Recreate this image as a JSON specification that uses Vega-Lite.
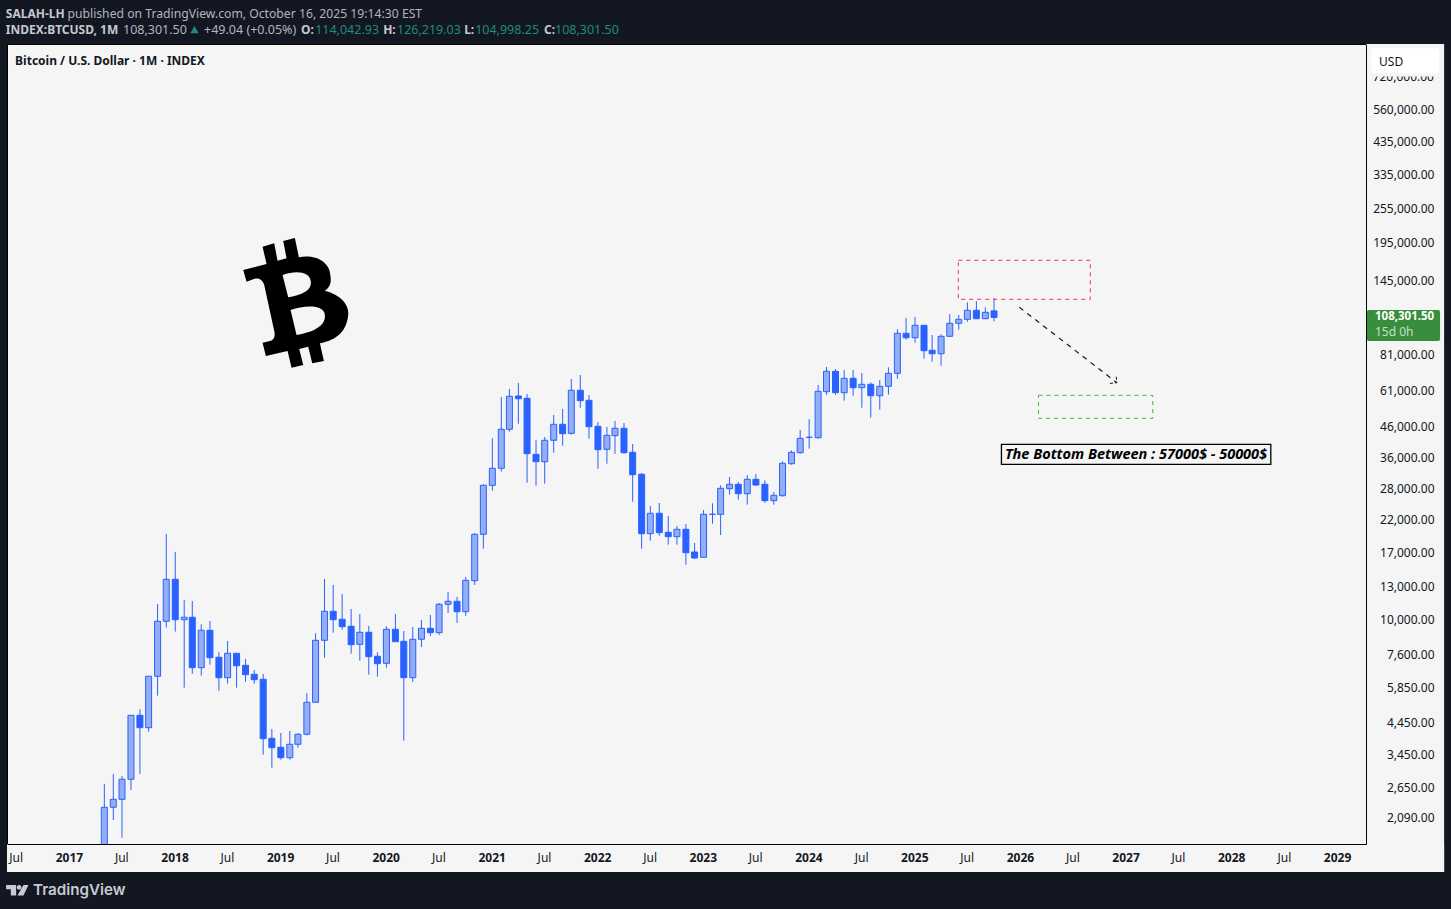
{
  "$schema": "https://vega.github.io/schema/vega-lite/v6.json",
  "autosize": {"type": "none"},
  "width": 1359,
  "height": 800,
  "padding": {"left": 7, "top": 44, "right": 85, "bottom": 65},
  "background": "#131722",
  "view": {"fill": "#f5f5f5", "stroke": "#000000"},
  "config": {"font": "Noto Sans", "text": {"font": "Noto Sans"}},
  "datasets": {
    "candles": [
      {"date":"2017-05-01","open":1350,"high":2733,"low":1350,"close":2275},
      {"date":"2017-06-01","open":2275,"high":2957,"low":2058,"close":2422},
      {"date":"2017-07-01","open":2422,"high":2911,"low":1789,"close":2837},
      {"date":"2017-08-01","open":2837,"high":4698,"low":2607,"close":4698},
      {"date":"2017-09-01","open":4698,"high":4926,"low":2957,"close":4261},
      {"date":"2017-10-01","open":4261,"high":6391,"low":4128,"close":6391},
      {"date":"2017-11-01","open":6391,"high":11302,"low":5484,"close":9861},
      {"date":"2017-12-01","open":9861,"high":19629,"low":9375,"close":13733},
      {"date":"2018-01-01","open":13733,"high":17032,"low":9085,"close":9987},
      {"date":"2018-02-01","open":9987,"high":11665,"low":5841,"close":10178},
      {"date":"2018-03-01","open":10178,"high":11573,"low":6522,"close":6839},
      {"date":"2018-04-01","open":6839,"high":9630,"low":6420,"close":9185},
      {"date":"2018-05-01","open":9185,"high":9884,"low":7003,"close":7400},
      {"date":"2018-06-01","open":7424,"high":7722,"low":5704,"close":6321},
      {"date":"2018-07-01","open":6321,"high":8442,"low":6028,"close":7662},
      {"date":"2018-08-01","open":7662,"high":7662,"low":5841,"close":6947},
      {"date":"2018-09-01","open":6969,"high":7325,"low":6124,"close":6471},
      {"date":"2018-10-01","open":6492,"high":6716,"low":6028,"close":6222},
      {"date":"2018-11-01","open":6242,"high":6507,"low":3444,"close":3907},
      {"date":"2018-12-01","open":3919,"high":4217,"low":3108,"close":3639},
      {"date":"2019-01-01","open":3651,"high":4086,"low":3311,"close":3363},
      {"date":"2019-02-01","open":3363,"high":4151,"low":3311,"close":3738},
      {"date":"2019-03-01","open":3738,"high":4086,"low":3639,"close":4044},
      {"date":"2019-04-01","open":4044,"high":5588,"low":4010,"close":5206},
      {"date":"2019-05-01","open":5206,"high":8970,"low":5190,"close":8489},
      {"date":"2019-06-01","open":8489,"high":13765,"low":7400,"close":10670},
      {"date":"2019-07-01","open":10670,"high":13128,"low":9013,"close":9987},
      {"date":"2019-08-01","open":10019,"high":12228,"low":9229,"close":9450},
      {"date":"2019-09-01","open":9480,"high":10866,"low":7638,"close":8199},
      {"date":"2019-10-01","open":8225,"high":10445,"low":7227,"close":9041},
      {"date":"2019-11-01","open":9041,"high":9504,"low":6471,"close":7460},
      {"date":"2019-12-01","open":7483,"high":7722,"low":6371,"close":7058},
      {"date":"2020-01-01","open":7080,"high":9480,"low":6839,"close":9258},
      {"date":"2020-02-01","open":9258,"high":10445,"low":8396,"close":8396},
      {"date":"2020-03-01","open":8422,"high":9134,"low":3846,"close":6321},
      {"date":"2020-04-01","open":6321,"high":9427,"low":6110,"close":8557},
      {"date":"2020-05-01","open":8557,"high":9963,"low":8052,"close":9331},
      {"date":"2020-06-01","open":9331,"high":10363,"low":8782,"close":9013},
      {"date":"2020-07-01","open":9013,"high":11392,"low":8851,"close":11275},
      {"date":"2020-08-01","open":11275,"high":12423,"low":10528,"close":11546},
      {"date":"2020-09-01","open":11546,"high":11944,"low":9730,"close":10637},
      {"date":"2020-10-01","open":10637,"high":13984,"low":10283,"close":13624},
      {"date":"2020-11-01","open":13582,"high":19739,"low":13128,"close":19583},
      {"date":"2020-12-01","open":19583,"high":29048,"low":17481,"close":28819},
      {"date":"2021-01-01","open":28819,"high":41752,"low":27619,"close":32956},
      {"date":"2021-02-01","open":32956,"high":57825,"low":32085,"close":44826},
      {"date":"2021-03-01","open":44826,"high":61592,"low":44000,"close":58147},
      {"date":"2021-04-01","open":58288,"high":64575,"low":46845,"close":57057},
      {"date":"2021-05-01","open":57238,"high":59209,"low":29417,"close":36976},
      {"date":"2021-06-01","open":36800,"high":41196,"low":28730,"close":34717},
      {"date":"2021-07-01","open":34717,"high":42180,"low":29185,"close":41097},
      {"date":"2021-08-01","open":41097,"high":50172,"low":37268,"close":46623},
      {"date":"2021-09-01","open":46623,"high":52604,"low":39386,"close":43292},
      {"date":"2021-10-01","open":43430,"high":66645,"low":42953,"close":60962},
      {"date":"2021-11-01","open":60962,"high":68781,"low":53147,"close":56164},
      {"date":"2021-12-01","open":56340,"high":58744,"low":41620,"close":45752},
      {"date":"2022-01-01","open":45896,"high":47477,"low":32852,"close":38163},
      {"date":"2022-02-01","open":38285,"high":45641,"low":34172,"close":42753},
      {"date":"2022-03-01","open":42617,"high":47853,"low":36976,"close":45178},
      {"date":"2022-04-01","open":45178,"high":47105,"low":37000,"close":37268},
      {"date":"2022-05-01","open":37387,"high":39915,"low":25325,"close":31333},
      {"date":"2022-06-01","open":31431,"high":31756,"low":17481,"close":19676},
      {"date":"2022-07-01","open":19676,"high":24481,"low":18620,"close":23110},
      {"date":"2022-08-01","open":23110,"high":25065,"low":19368,"close":19832},
      {"date":"2022-09-01","open":19894,"high":22625,"low":18041,"close":19217},
      {"date":"2022-10-01","open":19217,"high":20909,"low":18041,"close":20372},
      {"date":"2022-11-01","open":20372,"high":21239,"low":15409,"close":16938},
      {"date":"2022-12-01","open":17031,"high":18285,"low":16117,"close":16245},
      {"date":"2023-01-01","open":16336,"high":23720,"low":16300,"close":22928},
      {"date":"2023-02-01","open":22928,"high":25006,"low":21290,"close":22928},
      {"date":"2023-03-01","open":22928,"high":28819,"low":19475,"close":28147},
      {"date":"2023-04-01","open":28058,"high":30769,"low":26761,"close":29048},
      {"date":"2023-05-01","open":29048,"high":29579,"low":25728,"close":26972},
      {"date":"2023-06-01","open":26972,"high":31187,"low":24732,"close":30219},
      {"date":"2023-07-01","open":30219,"high":31506,"low":28663,"close":28888},
      {"date":"2023-08-01","open":29048,"high":29979,"low":25125,"close":25525},
      {"date":"2023-09-01","open":25525,"high":27336,"low":24732,"close":26633},
      {"date":"2023-10-01","open":26551,"high":34826,"low":26343,"close":34281},
      {"date":"2023-11-01","open":34172,"high":37981,"low":33904,"close":37387},
      {"date":"2023-12-01","open":37268,"high":44576,"low":37000,"close":41752},
      {"date":"2024-01-01","open":42086,"high":48504,"low":38464,"close":42086},
      {"date":"2024-02-01","open":41950,"high":63564,"low":41620,"close":60486},
      {"date":"2024-03-01","open":60296,"high":73259,"low":58885,"close":70820},
      {"date":"2024-04-01","open":70820,"high":72114,"low":58885,"close":59820},
      {"date":"2024-05-01","open":59820,"high":71549,"low":56164,"close":67016},
      {"date":"2024-06-01","open":67016,"high":71549,"low":58420,"close":62227},
      {"date":"2024-07-01","open":62227,"high":69875,"low":53147,"close":63915},
      {"date":"2024-08-01","open":63915,"high":64933,"low":49117,"close":58420},
      {"date":"2024-09-01","open":58420,"high":66123,"low":52317,"close":62918},
      {"date":"2024-10-01","open":62918,"high":73094,"low":58885,"close":69711},
      {"date":"2024-11-01","open":69711,"high":98634,"low":66804,"close":95564},
      {"date":"2024-12-01","open":95564,"high":107822,"low":90865,"close":92306},
      {"date":"2025-01-01","open":92306,"high":108672,"low":88734,"close":101792},
      {"date":"2025-02-01","open":101792,"high":101792,"low":78217,"close":83312},
      {"date":"2025-03-01","open":83572,"high":94300,"low":76390,"close":81360},
      {"date":"2025-04-01","open":81360,"high":94809,"low":74017,"close":93330},
      {"date":"2025-05-01","open":93330,"high":111273,"low":93000,"close":103408},
      {"date":"2025-06-01","open":103408,"high":110400,"low":98320,"close":106729},
      {"date":"2025-07-01","open":106729,"high":122033,"low":104723,"close":114569},
      {"date":"2025-08-01","open":114569,"high":123290,"low":107000,"close":107228},
      {"date":"2025-09-01","open":107228,"high":117325,"low":107000,"close":112778},
      {"date":"2025-10-01","open":114042.93,"high":126219.03,"low":104998.25,"close":108301.5}
    ]
  },
  "encoding": {
    "x": {
      "field": "date",
      "type": "temporal",
      "title": null,
      "scale": {"type": "utc", "domain": ["2016-06-01", "2029-04-11"], "nice": false, "padding": 0},
      "axis": {
        "zindex": 1,
        "grid": false,
        "ticks": false,
        "domainColor": "#000000",
        "labelOverlap": false,
        "labelFlush": false,
        "labelPadding": 8,
        "labelFontSize": 12,
        "labelColor": "#131722",
        "labelFontWeight": {"condition": {"test": "utcmonth(datum.value) == 0", "value": "bold"}, "value": "normal"},
        "labelExpr": "utcmonth(datum.value) == 0 ? utcFormat(datum.value, '%Y') : 'Jul'",
        "values": ["2016-07-01","2017-01-01","2017-07-01","2018-01-01","2018-07-01","2019-01-01","2019-07-01","2020-01-01","2020-07-01","2021-01-01","2021-07-01","2022-01-01","2022-07-01","2023-01-01","2023-07-01","2024-01-01","2024-07-01","2025-01-01","2025-07-01","2026-01-01","2026-07-01","2027-01-01","2027-07-01","2028-01-01","2028-07-01","2029-01-01"]
      }
    },
    "y": {
      "field": "price",
      "type": "quantitative",
      "title": null,
      "scale": {"type": "log", "domain": [1702.5, 935900], "nice": false},
      "axis": {
        "orient": "right",
        "zindex": 1,
        "grid": false,
        "ticks": false,
        "domainColor": "#000000",
        "labelOverlap": false,
        "labelFlush": false,
        "labelAlign": "right",
        "labelPadding": 68,
        "labelFontSize": 12,
        "labelColor": "#131722",
        "format": ",.2f",
        "values": [560000,435000,335000,255000,195000,145000,81000,61000,46000,36000,28000,22000,17000,13000,10000,7600,5850,4450,3450,2650,2090]
      }
    }
  },
  "layer": [
    {
      "data": {"name": "candles"},
      "mark": {"type": "rule", "color": "#2962ff", "strokeWidth": 1, "clip": true, "xOffset": 0.7},
      "encoding": {
        "y": {"field": "low", "type": "quantitative", "title": null, "axis": {"orient": "right"}, "scale": {"type": "log", "domain": [1702.5, 935900], "nice": false}},
        "y2": {"field": "high"}
      }
    },
    {
      "data": {"name": "candles"},
      "mark": {"type": "bar", "size": 6, "stroke": "#2962ff", "strokeWidth": 1, "clip": true, "xOffset": 0.7},
      "encoding": {
        "y": {"field": "open", "type": "quantitative", "title": null, "axis": {"orient": "right"}, "scale": {"type": "log", "domain": [1702.5, 935900], "nice": false}},
        "y2": {"field": "close"},
        "fill": {"condition": {"test": "datum.close >= datum.open", "value": "#93aef6"}, "value": "#2962ff"}
      }
    },
    {
      "data": {"values": [
        {"date": "2029-04-11", "end": "2030-01-06", "price": 935900, "bottom": 1365},
        {"date": "2016-06-01", "end": "2030-01-06", "price": 1702.5, "bottom": 1365}
      ]},
      "mark": {"type": "rect", "fill": "#f5f5f5"},
      "encoding": {"x2": {"field": "end"}, "y2": {"field": "bottom"}}
    },
    {
      "data": {"values": [{"date": "2029-12-02", "price": 720000, "label": "720,000.00"}]},
      "mark": {"type": "text", "align": "right", "baseline": "middle", "fontSize": 12, "color": "#131722"},
      "encoding": {"text": {"field": "label"}}
    },
    {
      "data": {"values": [{"date": "2029-04-29", "end": "2029-12-20", "price": 745000, "bottom": 725000}]},
      "mark": {"type": "rect", "fill": "#f5f5f5"},
      "encoding": {"x2": {"field": "end"}, "y2": {"field": "bottom"}}
    },
    {
      "data": {"values": [{"date": "2029-04-29", "end": "2029-12-20", "price": 904600, "bottom": 742800}]},
      "mark": {"type": "rect", "fill": "#ffffff", "cornerRadius": 3},
      "encoding": {"x2": {"field": "end"}, "y2": {"field": "bottom"}}
    },
    {
      "data": {"values": [{"date": "2029-05-26", "price": 813000, "label": "USD"}]},
      "mark": {"type": "text", "align": "left", "baseline": "middle", "fontSize": 12, "color": "#131722"},
      "encoding": {"text": {"field": "label"}}
    },
    {
      "data": {"values": [{"date": "2029-04-14", "end": "2029-12-23", "price": 114845, "bottom": 89932}]},
      "mark": {"type": "rect", "fill": "#388e3c", "cornerRadius": 2},
      "encoding": {"x2": {"field": "end"}, "y2": {"field": "bottom"}}
    },
    {
      "data": {"values": [{"date": "2029-05-12", "price": 108301.5, "label": "108,301.50"}]},
      "mark": {"type": "text", "align": "left", "baseline": "middle", "fontSize": 11.5, "fontWeight": "bold", "color": "#ffffff"},
      "encoding": {"text": {"field": "label"}}
    },
    {
      "data": {"values": [{"date": "2029-05-12", "price": 96800, "label": "15d 0h"}]},
      "mark": {"type": "text", "align": "left", "baseline": "middle", "fontSize": 12, "color": "#c3e0c4"},
      "encoding": {"text": {"field": "label"}}
    },
    {
      "data": {"values": [{"date": "2025-06-02", "end": "2026-09-01", "price": 169950, "bottom": 124960}]},
      "mark": {"type": "rect", "fill": null, "stroke": "#f23645", "strokeWidth": 1, "strokeDash": [4, 4]},
      "encoding": {"x2": {"field": "end"}, "y2": {"field": "bottom"}}
    },
    {
      "data": {"values": [{"date": "2026-03-06", "end": "2027-04-05", "price": 58600, "bottom": 48885}]},
      "mark": {"type": "rect", "fill": null, "stroke": "#3db83d", "strokeWidth": 1, "strokeDash": [4, 4]},
      "encoding": {"x2": {"field": "end"}, "y2": {"field": "bottom"}}
    },
    {
      "data": {"values": [
        {"date": "2025-12-30", "price": 117325},
        {"date": "2026-12-02", "price": 64728}
      ]},
      "mark": {"type": "line", "color": "#131722", "strokeWidth": 1.2, "strokeDash": [5, 5]},
      "encoding": {}
    },
    {
      "data": {"values": [
        {"date": "2026-11-08", "price": 64380},
        {"date": "2026-12-02", "price": 64728},
        {"date": "2026-11-29", "price": 68780}
      ]},
      "mark": {"type": "line", "color": "#131722", "strokeWidth": 1, "strokeDash": [3, 2]},
      "encoding": {"order": {"field": "price", "type": "ordinal", "sort": null}}
    },
    {
      "data": {"values": [{"date": "2025-10-29", "end": "2028-05-17", "price": 39820, "bottom": 34010}]},
      "mark": {"type": "rect", "fill": null, "stroke": "#000000", "strokeWidth": 1.3},
      "encoding": {"x2": {"field": "end"}, "y2": {"field": "bottom"}}
    },
    {
      "data": {"values": [{"date": "2027-02-06", "price": 36600, "label": "The Bottom Between : 57000$ - 50000$"}]},
      "mark": {"type": "text", "align": "center", "baseline": "middle", "fontSize": 14.5, "fontWeight": "bold", "fontStyle": "italic", "color": "#000000"},
      "encoding": {"text": {"field": "label"}}
    },
    {
      "data": {"values": [{"date": "2019-02-21", "price": 122620}]},
      "mark": {
        "type": "point",
        "filled": true,
        "opacity": 1,
        "color": "#000000",
        "size": 17778,
        "shape": "M-.485,-.825L-.31,-.875L-.26,-.615L-.125,-.65L-.175,-.91L0,-.955L.06,-.665C.275,-.71,.525,-.625,.535,-.375C.55,-.275,.515,-.21,.45,-.165C.7,-.1,.815,.05,.8,.2C.775,.45,.625,.575,.375,.625L.435,.89L.26,.925L.2,.675L.065,.71L.125,.95L-.05,.99L-.11,.74L-.435,.815L-.485,.615L-.375,.59C-.315,.575,-.29,.525,-.31,.44L-.46,-.25C-.485,-.325,-.535,-.365,-.615,-.34L-.725,-.3L-.775,-.475L-.425,-.565ZM-.185,-.4L-.1,-.065C.075,-.1,.25,-.15,.24,-.3C.225,-.45,.025,-.475,-.185,-.4ZM-.065,.125L.025,.5C.25,.46,.465,.375,.45,.2C.435,.04,.15,.05,-.065,.125Z"
      },
      "encoding": {}
    },
    {
      "data": {"values": [{"date": "2016-06-29", "price": 818000, "label": "Bitcoin / U.S. Dollar · 1M · INDEX"}]},
      "mark": {"type": "text", "align": "left", "baseline": "middle", "fontSize": 12, "fontWeight": "bold", "color": "#131722"},
      "encoding": {"text": {"field": "label"}}
    },
    {
      "data": {"values": [
        {"date": "2016-05-28", "price": 1190000, "label": "SALAH-LH"},
        {"date": "2016-05-28", "price": 1048600, "label": "INDEX:BTCUSD, 1M"},
        {"date": "2019-03-14", "price": 1048600, "label": "O:"},
        {"date": "2019-12-23", "price": 1048600, "label": "H:"},
        {"date": "2020-09-28", "price": 1048600, "label": "L:"},
        {"date": "2021-07-01", "price": 1048600, "label": "C:"}
      ]},
      "mark": {"type": "text", "align": "left", "baseline": "middle", "fontSize": 12, "fontWeight": "bold", "color": "#c5c8d0"},
      "encoding": {"text": {"field": "label"}}
    },
    {
      "data": {"values": [{"date": "2016-12-27", "price": 1190000, "label": "published on TradingView.com, October 16, 2025 19:14:30 EST"}]},
      "mark": {"type": "text", "align": "left", "baseline": "middle", "fontSize": 12.2, "color": "#b2b5be"},
      "encoding": {"text": {"field": "label"}}
    },
    {
      "data": {"values": [
        {"date": "2017-07-07", "price": 1048600, "label": "108,301.50"},
        {"date": "2018-04-13", "price": 1048600, "label": "+49.04 (+0.05%)"}
      ]},
      "mark": {"type": "text", "align": "left", "baseline": "middle", "fontSize": 12.5, "color": "#b2b5be"},
      "encoding": {"text": {"field": "label"}}
    },
    {
      "data": {"values": [
        {"date": "2019-05-02", "price": 1048600, "label": "114,042.93"},
        {"date": "2020-02-09", "price": 1048600, "label": "126,219.03"},
        {"date": "2020-11-05", "price": 1048600, "label": "104,998.25"},
        {"date": "2021-08-08", "price": 1048600, "label": "108,301.50"}
      ]},
      "mark": {"type": "text", "align": "left", "baseline": "middle", "fontSize": 12.5, "color": "#1f8a80"},
      "encoding": {"text": {"field": "label"}}
    },
    {
      "data": {"values": [{"date": "2018-03-11", "price": 1048600}]},
      "mark": {"type": "point", "shape": "triangle-up", "filled": true, "opacity": 1, "size": 70, "color": "#1f8a80"},
      "encoding": {}
    },
    {
      "data": {"values": [{"date": "2016-07-06", "price": 1182}]},
      "mark": {
        "type": "point",
        "filled": true,
        "opacity": 1,
        "color": "#c8cbd3",
        "size": 711,
        "shape": "M-.825,-.4L-.075,-.4L-.075,.4L-.475,.4L-.475,-.075L-.825,-.075ZM-.025,-.225A.175,.175,0,1,0,.325,-.225A.175,.175,0,1,0,-.025,-.225ZM.475,-.4L.85,-.4L.475,.4L.025,.4Z"
      },
      "encoding": {}
    },
    {
      "data": {"values": [{"date": "2016-08-30", "price": 1184, "label": "TradingView"}]},
      "mark": {"type": "text", "align": "left", "baseline": "middle", "font": "Inter", "fontSize": 15.2, "fontWeight": 600, "color": "#c8cbd3"},
      "encoding": {"text": {"field": "label"}}
    }
  ]
}
